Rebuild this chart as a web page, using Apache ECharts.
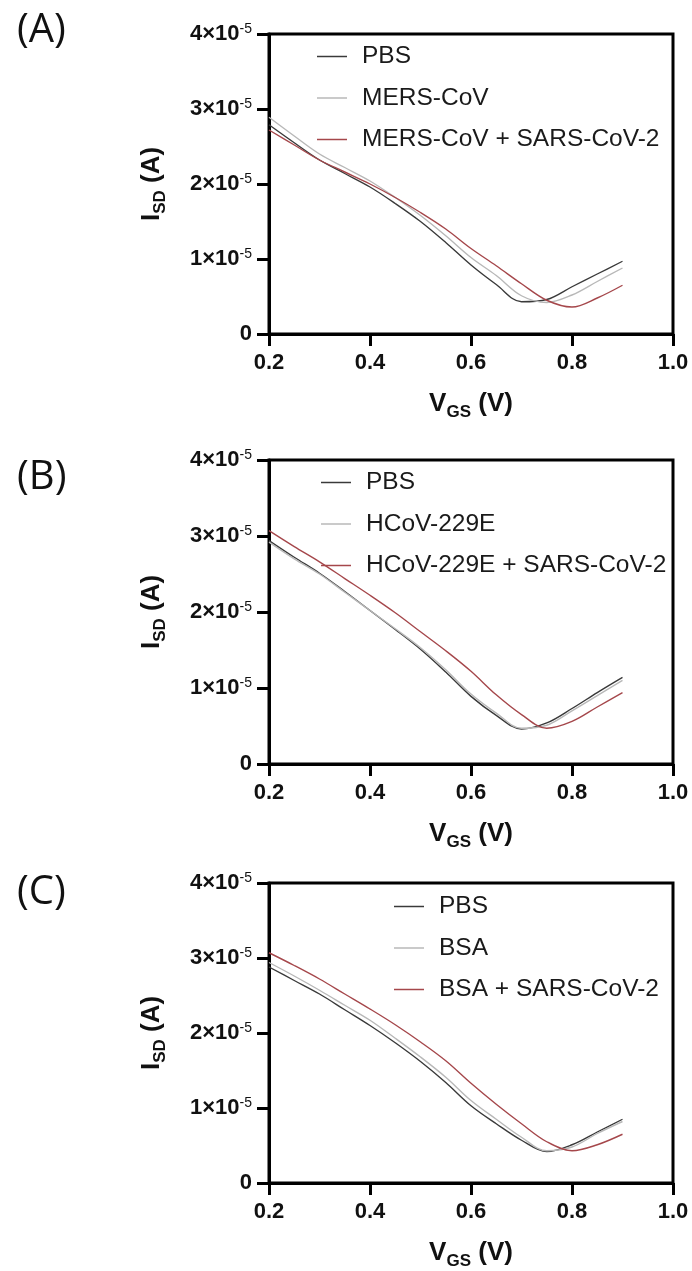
<!DOCTYPE html>
<html>
<head>
<meta charset="utf-8">
<script src="https://cdn.jsdelivr.net/npm/echarts@6/dist/echarts.min.js"></script>
<style>
  html, body { margin: 0; padding: 0; background: #ffffff; }
  #main { width: 692px; height: 1271px; }
</style>
</head>
<body>
<div id="main"></div>
<script>
// gate voltage (V)
var vgs = [0.2, 0.25, 0.3, 0.35, 0.4, 0.45, 0.5, 0.55, 0.6, 0.65, 0.7, 0.75, 0.8, 0.85, 0.9];

// source-drain current, in units of 1e-5 A
// (A)
var pbsA = [2.79, 2.55, 2.32, 2.14, 1.96, 1.74, 1.50, 1.22, 0.92, 0.66, 0.43, 0.46, 0.63, 0.80, 0.97];
var mersA = [2.89, 2.64, 2.40, 2.22, 2.04, 1.82, 1.58, 1.31, 1.02, 0.78, 0.51, 0.42, 0.52, 0.70, 0.88];
var mersSarsA = [2.72, 2.52, 2.32, 2.16, 2.00, 1.82, 1.62, 1.40, 1.14, 0.91, 0.67, 0.45, 0.36, 0.48, 0.65];
// (B)
var pbsB = [2.94, 2.72, 2.51, 2.27, 2.02, 1.77, 1.51, 1.21, 0.89, 0.64, 0.46, 0.54, 0.73, 0.94, 1.14];
var hcovB = [2.92, 2.70, 2.50, 2.26, 2.02, 1.78, 1.53, 1.24, 0.92, 0.67, 0.47, 0.51, 0.70, 0.90, 1.10];
var hcovSarsB = [3.07, 2.86, 2.66, 2.44, 2.22, 1.99, 1.74, 1.49, 1.22, 0.91, 0.65, 0.47, 0.56, 0.75, 0.94];
// (C)
var pbsC = [2.88, 2.70, 2.52, 2.31, 2.10, 1.87, 1.62, 1.34, 1.03, 0.79, 0.57, 0.42, 0.51, 0.68, 0.85];
var bsaC = [2.94, 2.76, 2.57, 2.37, 2.17, 1.93, 1.68, 1.41, 1.10, 0.85, 0.61, 0.43, 0.48, 0.66, 0.82];
var bsaSarsC = [3.07, 2.90, 2.72, 2.52, 2.32, 2.11, 1.88, 1.63, 1.33, 1.05, 0.79, 0.55, 0.43, 0.51, 0.65];

var xTicks = [0.2, 0.4, 0.6, 0.8, 1.0];
var yTicks = [0, 1e-5, 2e-5, 3e-5, 4e-5];
var panelLabels = ['(A)', '(B)', '(C)'];
var legendNames = [
  ['PBS', 'MERS-CoV', 'MERS-CoV + SARS-CoV-2'],
  ['PBS', 'HCoV-229E', 'HCoV-229E + SARS-CoV-2'],
  ['PBS', 'BSA', 'BSA + SARS-CoV-2']
];

var colors = ['#3a3a3a', '#b8b8b8', '#a5474b'];
var font = '"Liberation Sans", Arial, sans-serif';

var chart = echarts.init(document.getElementById('main'), null, { renderer: 'canvas' });

var grids = [
  { left: 269, right: 19, top: 34, height: 300 },
  { left: 269, right: 19, top: 460, height: 304 },
  { left: 269, right: 19, top: 883, height: 304 }
];
var legendPos = [
  { left: 312, top: 37 },
  { left: 316, top: 463 },
  { left: 389, top: 887 }
];
var labelTops = [6, 453, 868];

function makeSeries(name, values, idx, color) {
  return {
    name: name,
    type: 'line',
    xAxisIndex: idx,
    yAxisIndex: idx,
    symbol: 'none',
    smooth: 0.35,
    lineStyle: { color: color, width: 1.4 },
    itemStyle: { color: color },
    data: vgs.map(function (v, i) { return [v, values[i] * 1e-5]; })
  };
}

var nameRich = {
  m: { fontFamily: font, fontWeight: 'bold', fontSize: 26, color: '#111', lineHeight: 30, verticalAlign: 'top' },
  s: { fontFamily: font, fontWeight: 'bold', fontSize: 17, color: '#111', lineHeight: 20, verticalAlign: 'bottom' }
};

var xAxes = [], yAxes = [], legends = [], titles = [];
grids.forEach(function (g, i) {
  g.show = true;
  g.borderColor = '#000';
  g.borderWidth = 3;
  xAxes.push({
    type: 'value', gridIndex: i,
    min: xTicks[0], max: xTicks[xTicks.length - 1], interval: 0.2,
    name: '{m|V}{s|GS}{m| (V)}',
    nameLocation: 'middle', nameGap: 57,
    nameTextStyle: { rich: nameRich },
    axisLine: { lineStyle: { color: '#000', width: 3 } },
    axisTick: { length: 12, lineStyle: { color: '#000', width: 3 } },
    axisLabel: {
      margin: 18, fontFamily: font, fontWeight: 'bold', fontSize: 22, color: '#111',
      formatter: function (v) { return v.toFixed(1); }
    },
    splitLine: { show: false }
  });
  yAxes.push({
    type: 'value', gridIndex: i,
    min: yTicks[0], max: yTicks[yTicks.length - 1], interval: 1e-5,
    name: '{m|I}{s|SD}{m| (A)}',
    nameLocation: 'middle', nameGap: 100,
    nameTextStyle: { rich: nameRich },
    axisLine: { show: true, lineStyle: { color: '#000', width: 3 } },
    axisTick: { show: true, length: 12, lineStyle: { color: '#000', width: 3 } },
    axisLabel: {
      margin: 17,
      formatter: function (v) {
        var n = Math.round(v / 1e-5);
        if (n === 0) return '{b|0}';
        return '{b|' + n + '×10}{s|-5}';
      },
      rich: {
        b: { fontFamily: font, fontWeight: 'bold', fontSize: 22, color: '#111', lineHeight: 24 },
        s: { fontFamily: font, fontSize: 14, color: '#111', lineHeight: 12, verticalAlign: 'top' }
      }
    },
    splitLine: { show: false }
  });
  legends.push({
    orient: 'vertical',
    left: legendPos[i].left, top: legendPos[i].top,
    data: legendNames[i],
    icon: 'rect',
    itemWidth: 30, itemHeight: 1.5, itemGap: 12.5,
    selectedMode: false,
    textStyle: { fontFamily: font, fontSize: 24.5, lineHeight: 29, color: '#1a1a1a', padding: [0, 0, 0, 10] }
  });
  titles.push({
    text: panelLabels[i], left: 12, top: labelTops[i],
    textStyle: { fontFamily: '"Open Sans", sans-serif', fontWeight: 'normal', fontSize: 40, color: '#111' }
  });
});

var option = {
  backgroundColor: '#ffffff',
  animation: false,
  title: titles,
  legend: legends,
  grid: grids,
  xAxis: xAxes,
  yAxis: yAxes,
  series: [
    makeSeries('PBS', pbsA, 0, colors[0]),
    makeSeries('MERS-CoV', mersA, 0, colors[1]),
    makeSeries('MERS-CoV + SARS-CoV-2', mersSarsA, 0, colors[2]),
    makeSeries('PBS', pbsB, 1, colors[0]),
    makeSeries('HCoV-229E', hcovB, 1, colors[1]),
    makeSeries('HCoV-229E + SARS-CoV-2', hcovSarsB, 1, colors[2]),
    makeSeries('PBS', pbsC, 2, colors[0]),
    makeSeries('BSA', bsaC, 2, colors[1]),
    makeSeries('BSA + SARS-CoV-2', bsaSarsC, 2, colors[2])
  ]
};

chart.setOption(option);
</script>
</body>
</html>
